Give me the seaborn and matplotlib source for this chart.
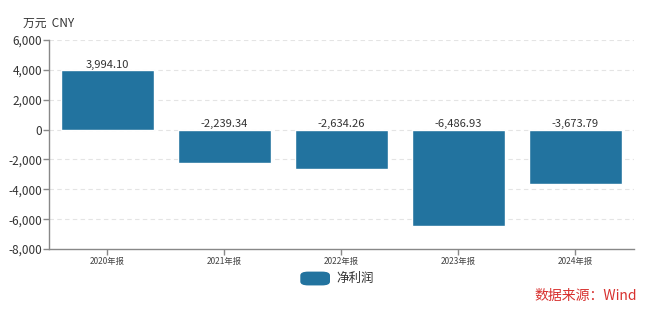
import matplotlib
matplotlib.use("Agg")
import matplotlib.pyplot as plt
import seaborn as sns
import pandas as pd
from matplotlib.ticker import FuncFormatter
from matplotlib.patches import FancyBboxPatch

categories = ["2020年报", "2021年报", "2022年报", "2023年报", "2024年报"]
net_profit = [3994.10, -2239.34, -2634.26, -6486.93, -3673.79]
series_name = "净利润"
yticks = [-8000, -6000, -4000, -2000, 0, 2000, 4000, 6000]

sns.set_theme(style="white")
plt.rcParams['font.family'] = ['Noto Sans CJK SC', 'DejaVu Sans']

bar_color = "#22739f"
df = pd.DataFrame({"cat": categories, "val": net_profit})

fig = plt.figure(figsize=(6.6, 3.14), dpi=100)
ax = fig.add_axes([0.0742, 0.207, 0.8864, 0.6656])
sns.barplot(data=df, x="cat", y="val", color=bar_color, saturation=1, width=0.8, ax=ax)

ax.set_ylim(-8000, 6000)
ax.set_xlim(-0.5, len(categories) - 0.5)
ax.set_yticks(yticks)
ax.yaxis.set_major_formatter(FuncFormatter(lambda v, p: f"{int(v):,}"))
ax.set_xlabel("")
ax.set_ylabel("")

for y in yticks[1:]:
    ax.axhline(y, color="#e4e4e4", lw=0.8, ls=(0, (4, 3)), zorder=0)

for s in ["top", "right"]:
    ax.spines[s].set_visible(False)
for s in ["left", "bottom"]:
    ax.spines[s].set_color("#888888")
    ax.spines[s].set_linewidth(1.0)

ax.tick_params(axis="y", length=4, width=1, color="#888888", labelsize=8.5, labelcolor="#333333", pad=1, left=True)
ax.tick_params(axis="x", length=4, width=1, color="#888888", labelsize=6, labelcolor="#444444", pad=2, bottom=True)

for i, v in enumerate(net_profit):
    ax.text(i, max(v, 0) + 15, f"{v:,.2f}", ha="center", va="bottom", fontsize=8, color="#333333")

fig.text(0.035, 0.925, "万元  CNY", fontsize=8.5, color="#333333", ha="left", va="center")

# legend
lx, ly = 0.455, 0.113
patch = FancyBboxPatch((lx, ly - 0.022), 0.045, 0.044, boxstyle="round,pad=0,rounding_size=0.012",
                       transform=fig.transFigure, facecolor=bar_color, edgecolor="none")
fig.patches.append(patch)
fig.text(lx + 0.055, ly, series_name, fontsize=9, color="#333333", ha="left", va="center")

fig.text(0.965, 0.058, "数据来源：Wind", fontsize=10, color="#d8312f", ha="right", va="center")

fig.savefig("out.png", dpi=100)
